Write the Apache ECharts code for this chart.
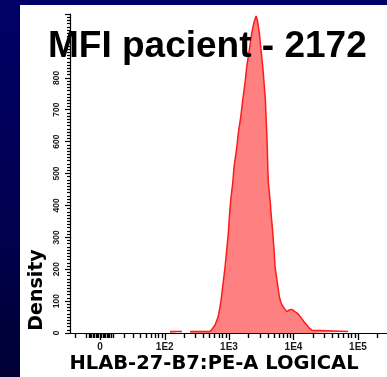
<!DOCTYPE html>
<html>
<head>
<meta charset="utf-8">
<script src="https://cdn.jsdelivr.net/npm/echarts@6/dist/echarts.min.js"></script>
<style>
html,body{margin:0;padding:0;width:387px;height:377px;overflow:hidden;}
body{background:linear-gradient(to bottom,#000068 0%,#000052 55%,#000034 100%);position:relative;}
#chart{position:absolute;left:20px;top:5px;width:367px;height:372px;background:#ffffff;}
</style>
</head>
<body>
<div id="chart"></div>
<script>
// ---- data ----
const titleText = 'MFI pacient - 2172';
const xAxisTitle = 'HLAB-27-B7:PE-A LOGICAL';
const yAxisTitle = 'Density';

// x tick labels (MFI values) and their labels
const xLabelValues = [0, 1e2, 1e3, 1e4, 1e5];
const xTickLabels = ['0', '1E2', '1E3', '1E4', '1E5'];
// minor tick MFI values
const xMinorValues = [-20, -10, -8, -7, -6, -5, -4, -3, -2, -1, 1, 2, 3, 4, 5, 6, 7, 8,
  10, 20, 30, 40, 50, 60, 70, 80, 90,
  200, 300, 400, 500, 600, 700, 800, 900,
  2000, 3000, 4000, 5000, 6000, 7000, 8000, 9000,
  20000, 30000, 40000, 50000, 60000, 70000, 80000, 90000, 200000];

// histogram: bin position (logicle display units) and density (null = empty)
const binPos = [1.086, 1.272, 1.33, 1.396, 1.706, 1.737, 1.784, 1.831, 1.861, 1.877, 1.908, 1.939,
  1.965, 1.990, 2.006, 2.027, 2.058, 2.078, 2.120, 2.145, 2.182, 2.213, 2.249, 2.275, 2.316,
  2.353, 2.389, 2.420, 2.440, 2.471, 2.497, 2.524, 2.544, 2.564, 2.575, 2.586, 2.595, 2.601,
  2.611, 2.637, 2.657, 2.679, 2.699, 2.714, 2.750, 2.781, 2.808, 2.843, 2.896, 2.932, 2.973,
  3.009, 3.051, 3.087, 3.129, 3.164, 3.206, 3.242, 3.284, 3.304, 3.847];
const binDensity = [5, 5, null, 5, 5, 12, 25, 50, 81, 103, 154, 207,
  260, 314, 364, 417, 470, 520, 580, 627, 677, 730, 784, 834, 888,
  940, 975, 994, 981, 940, 887, 834, 784, 730, 677, 627, 574, 522,
  470, 417, 364, 314, 260, 207, 157, 113, 94, 81, 67, 72, 74,
  69, 63, 56, 45, 35, 25, 16, 9, 5, 5];

const yMin = 0, yMax = 1000, yStep = 100;
const xMin = -0.465, xMax = 4.45;

// logicle-like (arcsinh) display transform
function toDisplay(v) { return Math.asinh(v / 20) / Math.LN10; }

const chart = echarts.init(document.getElementById('chart'), null, {renderer: 'canvas'});
const seriesData = binPos.map((p, i) => [p, binDensity[i] === null ? '-' : binDensity[i]]);
const labelPos = xLabelValues.map(toDisplay);
const minorPos = xMinorValues.map(toDisplay).filter(u => u >= xMin && u <= xMax);

const labelFont = {fontFamily: 'Liberation Sans, Arial', fontWeight: 'bold', color: '#1a1a1a'};

chart.setOption({
  animation: false,
  backgroundColor: '#ffffff',
  title: {
    text: titleText, left: 23, top: 18, z: 10,
    textStyle: {fontFamily: 'Liberation Sans, Arial', fontWeight: 'bold', fontSize: 37, color: '#000'}
  },
  grid: {left: 50, top: 9, right: 0, bottom: 44, containLabel: false},
  xAxis: [{
    type: 'value', position: 'bottom', min: xMin, max: xMax,
    axisLine: {show: true, onZero: false, lineStyle: {color: '#000', width: 1}},
    axisTick: {show: true, customValues: labelPos, length: 7, lineStyle: {color: '#000', width: 1.3}},
    axisLabel: Object.assign({show: true, customValues: labelPos, fontSize: 10, margin: 9,
      formatter: (val) => {
        let best = 0, bd = Infinity;
        labelPos.forEach((p, i) => { const d = Math.abs(p - val); if (d < bd) { bd = d; best = i; } });
        return xTickLabels[best];
      }}, labelFont),
    splitLine: {show: false}
  }, {
    type: 'value', position: 'bottom', min: xMin, max: xMax, offset: 0,
    axisLine: {show: false},
    axisTick: {show: true, customValues: minorPos, length: 5, lineStyle: {color: '#000', width: 1.4}},
    axisLabel: {show: false},
    splitLine: {show: false}
  }],
  yAxis: {
    type: 'value', min: yMin, max: yMax, interval: yStep,
    axisLine: {show: true, onZero: false, lineStyle: {color: '#000', width: 1.2}},
    axisTick: {show: true, length: 5, lineStyle: {color: '#000', width: 1.2}},
    minorTick: {show: true, splitNumber: 10, length: 3, lineStyle: {color: '#000', width: 1.2}},
    axisLabel: Object.assign({show: true, rotate: 90, fontSize: 8.5, margin: 9,
      formatter: (v) => (v >= 900 ? '' : String(v))}, labelFont),
    splitLine: {show: false}, minorSplitLine: {show: false}
  },
  graphic: [{
    type: 'text', x: 17, y: 285, rotation: Math.PI / 2,
    style: {text: yAxisTitle, fontFamily: 'DejaVu Sans', fontWeight: 'bold', fontSize: 19,
      fill: '#000', align: 'center', verticalAlign: 'middle'}
  }, {
    type: 'text', x: 194, y: 359,
    style: {text: xAxisTitle, fontFamily: 'DejaVu Sans', fontWeight: 'bold', fontSize: 19.5,
      fill: '#000', align: 'center', verticalAlign: 'middle'}
  }],
  series: [{
    type: 'line', xAxisIndex: 0, yAxisIndex: 0,
    data: seriesData, showSymbol: false, smooth: false, connectNulls: false,
    lineStyle: {color: '#ff1a1a', width: 1.5},
    areaStyle: {color: '#ff8080', opacity: 1},
    z: 3
  }]
});
</script>
</body>
</html>
